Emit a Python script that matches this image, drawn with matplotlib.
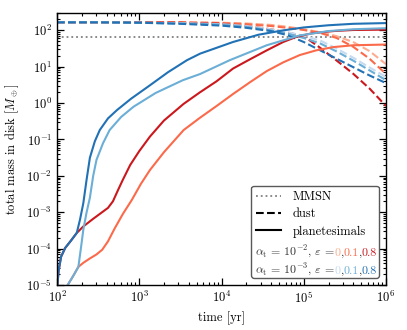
"""
Total dust and planetesimal mass in the disk over time.
"""
import matplotlib
matplotlib.use("Agg")
import matplotlib.pyplot as plt
import numpy as np
from matplotlib.lines import Line2D

plt.rcParams.update({
    'font.family': 'serif',
    'font.serif': ['cmr10', 'DejaVu Serif'],
    'mathtext.fontset': 'cm',
    'axes.formatter.use_mathtext': True,
    'font.size': 9,
    'axes.unicode_minus': False,
})

# colours per (alpha_t, epsilon)
c_red = ['#fcae91', '#fb6a4a', '#cb181d']   # alpha_t = 1e-2, eps = 0, 0.1, 0.8
c_blue = ['#c6dbef', '#6baed6', '#2171b5']  # alpha_t = 1e-3, eps = 0, 0.1, 0.8

mmsn_mass = 66.0

# dust mass, log10 values
logt_dust = [2.0, 2.5, 3.0, 3.5, 4.0, 4.3, 4.6, 4.8, 5.0, 5.2, 5.4, 5.6, 5.8, 6.0]
dust_red_0 = [2.22, 2.22, 2.22, 2.22, 2.21, 2.19, 2.15, 2.10, 2.03, 1.95, 1.84, 1.68, 1.43, 1.07]
dust_red_01 = [2.22, 2.22, 2.22, 2.22, 2.20, 2.17, 2.12, 2.07, 2.01, 1.93, 1.79, 1.55, 1.22, 0.80]
dust_red_08 = [2.22, 2.22, 2.22, 2.21, 2.18, 2.12, 2.03, 1.94, 1.84, 1.52, 1.17, 0.81, 0.40, -0.08]
dust_blue_0 = [2.22, 2.22, 2.21, 2.20, 2.17, 2.12, 2.03, 1.95, 1.85, 1.72, 1.50, 1.25, 0.98, 0.72]
dust_blue_01 = [2.22, 2.22, 2.21, 2.19, 2.16, 2.10, 2.00, 1.91, 1.79, 1.64, 1.42, 1.17, 0.90, 0.63]
dust_blue_08 = [2.22, 2.22, 2.21, 2.18, 2.13, 2.07, 1.98, 1.87, 1.68, 1.45, 1.22, 0.99, 0.76, 0.55]

# planetesimal mass, log10 (t, M)
logt_pl_blue_08 = [2.005, 2.02, 2.05, 2.10, 2.17, 2.24, 2.28, 2.32, 2.36, 2.40, 2.46, 2.52, 2.62,
                   2.73, 2.90, 3.13, 3.35, 3.58, 3.74, 4.14, 4.45, 4.75, 5.0, 5.3, 5.6, 6.0]
logm_pl_blue_08 = [-5.0, -4.6, -4.22, -3.98, -3.78, -3.57, -3.2, -2.75, -2.1, -1.5, -1.05, -0.74, -0.42,
                   -0.19, 0.12, 0.49, 0.85, 1.18, 1.36, 1.68, 1.88, 2.0, 2.08, 2.14, 2.18, 2.20]

logt_pl_red_08 = [2.005, 2.02, 2.05, 2.10, 2.17, 2.24, 2.32, 2.44, 2.56, 2.62, 2.68, 2.74, 2.80,
                  2.89, 3.0, 3.13, 3.3, 3.54, 3.74, 3.94, 4.14, 4.31, 4.55, 4.75, 4.91, 5.1,
                  5.36, 5.6, 6.0]
logm_pl_red_08 = [-5.0, -4.6, -4.22, -3.98, -3.78, -3.57, -3.39, -3.18, -2.98, -2.88, -2.70, -2.40, -2.11,
                  -1.70, -1.32, -0.92, -0.48, -0.02, 0.30, 0.60, 0.95, 1.16, 1.45, 1.68, 1.82, 1.92,
                  1.98, 2.01, 2.02]

logt_pl_blue_01 = [2.13, 2.20, 2.26, 2.29, 2.32, 2.36, 2.40, 2.44, 2.48, 2.56, 2.64, 2.78,
                   2.93, 3.2, 3.53, 3.74, 4.10, 4.55, 4.95, 5.3, 5.6, 6.0]
logm_pl_blue_01 = [-5.0, -4.74, -4.50, -4.0, -3.48, -3.0, -2.6, -2.0, -1.56, -1.1, -0.74, -0.38,
                   -0.10, 0.28, 0.63, 0.80, 1.18, 1.59, 1.86, 1.98, 2.03, 2.06]

logt_pl_red_01 = [2.13, 2.20, 2.26, 2.32, 2.40, 2.48, 2.55, 2.62, 2.70, 2.80, 2.91, 3.02, 3.13,
                  3.3, 3.54, 3.74, 3.94, 4.14, 4.35, 4.55, 4.75, 4.95, 5.15, 5.36, 5.6, 6.0]
logm_pl_red_01 = [-5.0, -4.74, -4.50, -4.39, -4.27, -4.16, -4.03, -3.80, -3.45, -3.05, -2.66, -2.22, -1.84,
                  -1.35, -0.74, -0.40, -0.08, 0.25, 0.58, 0.88, 1.12, 1.32, 1.45, 1.54, 1.59, 1.61]

fig = plt.figure(figsize=(4.07, 3.30), dpi=100)
ax = fig.add_axes([57 / 407, 45 / 330, 329 / 407, 272 / 330])

ax.axhline(mmsn_mass, color='0.5', ls=':', lw=1.3)

t_dust = 10 ** np.array(logt_dust)
dust_sets = [(dust_red_0, c_red[0]), (dust_red_01, c_red[1]), (dust_red_08, c_red[2]),
             (dust_blue_0, c_blue[0]), (dust_blue_01, c_blue[1]), (dust_blue_08, c_blue[2])]
for vals, col in dust_sets:
    ax.plot(t_dust, 10 ** np.array(vals), color=col, ls='--', lw=1.5)

pl_sets = [(logt_pl_red_01, logm_pl_red_01, c_red[1]),
           (logt_pl_red_08, logm_pl_red_08, c_red[2]),
           (logt_pl_blue_01, logm_pl_blue_01, c_blue[1]),
           (logt_pl_blue_08, logm_pl_blue_08, c_blue[2])]
for lt, lm, col in pl_sets:
    ax.plot(10 ** np.array(lt), 10 ** np.array(lm), color=col, ls='-', lw=1.5)

ax.set_xscale('log')
ax.set_yscale('log')
ax.set_xlim(1e2, 1e6)
ax.set_ylim(1e-5, 3e2)
ax.set_xlabel('time [yr]')
ax.set_ylabel(r'total mass in disk [$M_\oplus$]')
ax.tick_params(which='both', direction='in', top=True, right=True)
ax.tick_params(which='major', length=5, width=0.9)
ax.tick_params(which='minor', length=2.5, width=0.8)
for sp in ax.spines.values():
    sp.set_linewidth(1.0)

handles = [Line2D([], [], color='0.5', ls=':', lw=1.3),
           Line2D([], [], color='k', ls='--', lw=1.5),
           Line2D([], [], color='k', ls='-', lw=1.5),
           Line2D([], [], ls='none'),
           Line2D([], [], ls='none')]
labels = ['MMSN', 'dust', 'planetesimals', 'planetesimals .', 'planetesimals .']
leg = ax.legend(handles, labels, loc='lower right', handlelength=2.0, handletextpad=0.9,
                labelspacing=0.42, borderaxespad=0.6, fancybox=True, framealpha=1.0,
                edgecolor='0.35')
for txt in leg.get_texts()[3:]:
    txt.set_color('none')

# coloured epsilon labels, built piece by piece
fig.canvas.draw()
renderer = fig.canvas.get_renderer()
rows = [(0.602, 0.108, r'$\alpha_{\rm t}\,=\,10^{-2}$, $\varepsilon\,=$', c_red),
        (0.602, 0.042, r'$\alpha_{\rm t}\,=\,10^{-3}$, $\varepsilon\,=$', c_blue)]
for x0, y0, prefix, cols in rows:
    pieces = [(prefix, '0.2'), ('0', cols[0]), (',', '0.2'), ('0.1', cols[1]),
              (',', '0.2'), ('0.8', cols[2])]
    x = x0
    for s, col in pieces:
        t = ax.text(x, y0, s, transform=ax.transAxes, color=col, va='baseline', ha='left',
                    fontsize=8.6, zorder=10)
        bb = t.get_window_extent(renderer)
        x = ax.transAxes.inverted().transform((bb.x1 - 0.3, bb.y0))[0]

fig.savefig('out.png', dpi=100)
